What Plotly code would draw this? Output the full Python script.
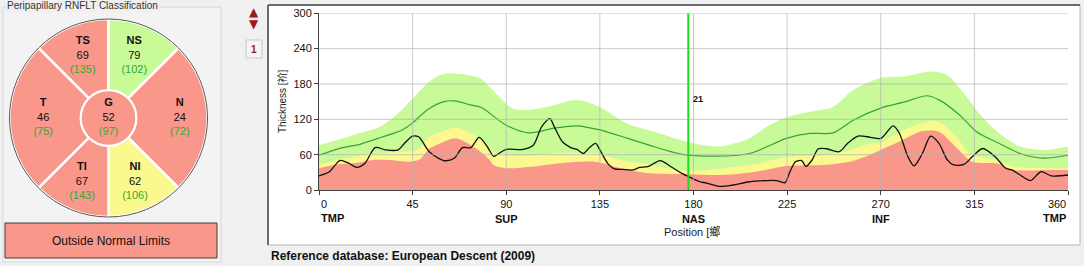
import plotly.graph_objects as go

W, H = 1084, 266

# ---------------- data ----------------
# measured RNFL thickness profile (black)
meas_deg = [0, 5, 10, 14, 18, 22, 27, 32, 38, 41, 45, 48, 53, 60, 65, 69, 73, 77, 81, 84, 86, 90,
            98, 103, 107, 111, 113, 117, 121, 124, 127, 130, 133, 135, 139, 142, 146, 151, 154, 158,
            164, 169, 174, 178, 183, 186, 193, 199, 207, 215, 220, 224, 226, 229, 232, 234, 237, 240,
            244, 250, 254, 259, 265, 270, 276, 279, 283, 286, 290, 294, 298, 302, 305, 310, 314, 319,
            325, 330, 333, 337, 342, 347, 352, 360]
meas_um = [24, 31, 50, 46, 38.5, 45, 72, 68, 68, 79, 91.5, 90, 65, 50, 54, 72, 72, 89.5, 73, 57, 61, 69,
           69, 76, 107, 121, 108, 82, 72, 69, 62, 72, 79, 68, 44, 36, 35, 34, 38.5, 39.5,
           50, 40, 29, 22, 14, 12, 6, 8.5, 14, 16, 16, 12.5, 28, 48, 50, 40, 51, 70,
           70, 65, 79, 91.5, 89.5, 87.5, 109, 96, 57, 41, 62, 91.5, 79, 51, 42.5, 43.5, 56.5, 70.5,
           56.5, 37, 34, 25.5, 16, 31, 24, 25.5]

# normative mean (green line)
mean_deg = [0, 10, 20, 30, 40, 45, 52, 60, 66, 72, 78, 90, 101, 113, 124, 135, 148, 161, 174, 190,
            207, 225, 236, 247, 257, 270, 282, 292, 298, 308, 316, 327, 337, 348, 360]
mean_um = [59, 70.7, 78, 89.5, 102, 114, 136, 150, 151, 145, 140, 110, 97, 105, 109, 102, 88, 73.5, 61, 57.5,
           62, 88, 96, 97, 119, 139, 150, 160, 153, 127, 99, 79, 62, 54, 59]

# upper limit of green band
green_deg = [0, 10, 20, 29, 37, 45, 52, 58, 65, 77, 85, 93, 101, 113, 124, 135, 148, 161, 174, 185,
             193, 207, 215, 225, 236, 247, 257, 270, 282, 294, 302, 310, 318, 327, 337, 348, 360]
green_um = [76, 86, 97, 107, 127, 155, 181, 195, 198, 190, 164, 139, 136, 144, 153, 141, 113, 99, 85, 76,
            74, 88, 107, 124, 133, 141, 170, 190, 193, 201, 195, 164, 127, 96, 74, 68, 74]

# upper limit of yellow band (borderline)
yellow_deg = [0, 10, 26, 40, 47, 53, 60, 65, 70, 76, 82, 84, 90, 103, 117, 133, 145, 157, 173, 183,
              194, 210, 225, 242, 255, 265, 270, 275, 280, 290, 297, 306, 313, 325, 334, 350, 360]
yellow_um = [42, 52, 61, 65, 68, 90, 100, 106, 102, 90, 73, 65, 59, 59, 63, 62, 51, 44, 34, 33,
             37, 44, 56, 59, 68, 79, 80, 90, 100, 114, 117, 92, 61, 51, 40, 37, 37]

# upper limit of red band (outside normal limits)
red_deg = [0, 10, 18, 26, 34, 44, 48.5, 53, 60, 65, 69, 76, 82, 84, 90, 103, 117, 133, 145, 157,
           173, 183, 194, 210, 225, 242, 255, 265, 270, 275, 280, 290, 298, 306, 314, 326, 334, 350, 360]
red_um = [37, 44, 46, 51, 51, 48, 52, 70, 82, 88, 84, 69, 51, 42, 37, 40, 46, 48, 37, 29,
          27, 26, 25.5, 31, 40.7, 42.4, 48, 60, 68, 76, 84, 100, 99, 73.5, 48, 45, 34, 34, 34]

cursor_deg = 177.5
cursor_value = 21

x_ticks = [0, 45, 90, 135, 180, 225, 270, 315, 360]
x_tick_text = ["", "45", "90<br><b>SUP</b>", "135", "180<br><b>NAS</b>", "225",
               "270<br><b>INF</b>", "315", ""]
y_ticks = [0, 60, 120, 180, 240, 300]

# sector classification
sector_names = ["TS", "NS", "N", "NI", "TI", "T"]
sector_values = [69, 79, 24, 62, 67, 46]
sector_normals = [135, 102, 72, 106, 143, 75]
sector_status = ["outside", "within", "outside", "borderline", "outside", "outside"]
global_name, global_value, global_normal, global_status = "G", 52, 97, "outside"
classification = "Outside Normal Limits"

# ---------------- styles ----------------
FONT = "Arial, 'Liberation Sans', 'Noto Sans CJK SC', sans-serif"
RED = "#FA978B"
YEL = "#FAF88E"
GRN = "#C8FA98"
STATUS_COL = {"outside": RED, "borderline": YEL, "within": GRN}
GTXT = "#34A834"

# sector geometry (center angle, width) in polar plot (0 deg = right, ccw)
sector_geom = {"TS": (112.5, 45), "NS": (67.5, 45), "N": (0, 90),
               "NI": (292.5, 45), "TI": (247.5, 45), "T": (180, 90)}
label_r = {"TS": 0.68, "NS": 0.68, "N": 0.72, "NI": 0.70, "TI": 0.70, "T": 0.66}


def px(x):
    return x / W


def py(y):
    return 1 - y / H


fig = go.Figure()

# ---- profile chart ----
for xs, ys, col in [(green_deg, green_um, GRN), (yellow_deg, yellow_um, YEL), (red_deg, red_um, RED)]:
    fig.add_trace(go.Scatter(x=xs, y=ys, mode="lines", fill="tozeroy", fillcolor=col,
                             line=dict(width=0, shape="spline", smoothing=0.8, color=col),
                             hoverinfo="skip", showlegend=False))
fig.add_trace(go.Scatter(x=mean_deg, y=mean_um, mode="lines",
                         line=dict(color="#34A534", width=1.2, shape="spline", smoothing=0.8),
                         hoverinfo="skip", showlegend=False))
fig.add_trace(go.Scatter(x=meas_deg, y=meas_um, mode="lines",
                         line=dict(color="#111111", width=1.3, shape="spline", smoothing=0.8),
                         hoverinfo="skip", showlegend=False))

# ---- classification wheel ----
for name, status in zip(sector_names, sector_status):
    c, w = sector_geom[name]
    fig.add_trace(go.Barpolar(r=[0.72], base=[0.28], theta=[c], width=[w],
                              marker=dict(color=STATUS_COL[status], line=dict(color="white", width=2.5)),
                              hoverinfo="skip", showlegend=False, subplot="polar"))
fig.add_trace(go.Barpolar(r=[0.27], base=[0], theta=[0], width=[360],
                          marker=dict(color=STATUS_COL[global_status], line=dict(color="white", width=0)),
                          hoverinfo="skip", showlegend=False, subplot="polar"))

lab_r, lab_t, lab_txt = [], [], []
for name, v, n in zip(sector_names, sector_values, sector_normals):
    lab_r.append(label_r[name])
    lab_t.append(sector_geom[name][0])
    lab_txt.append(f"<b>{name}</b><br>{v}<br><span style='color:{GTXT}'>({n})</span>")
lab_r.append(0)
lab_t.append(0)
lab_txt.append(f"<b>{global_name}</b><br>{global_value}<br><span style='color:{GTXT}'>({global_normal})</span>")
fig.add_trace(go.Scatterpolar(r=lab_r, theta=lab_t, text=lab_txt, mode="text",
                              textfont=dict(family=FONT, size=11, color="#111111"),
                              hoverinfo="skip", showlegend=False, subplot="polar"))

shapes = []
# left panel box
shapes.append(dict(type="rect", xref="paper", yref="paper", x0=px(3), x1=px(221), y0=py(262), y1=py(7),
                   fillcolor="#F3F3F3", line=dict(color="#D6D6D6", width=1), layer="below"))
# right panel
shapes.append(dict(type="rect", xref="paper", yref="paper", x0=px(268), x1=px(1080), y0=py(245), y1=py(5),
                   fillcolor="white", line=dict(color="#B4B4B4", width=1), layer="below"))
shapes.append(dict(type="line", xref="paper", yref="paper", x0=px(268), x1=px(1080), y0=py(5), y1=py(5),
                   line=dict(color="#6A6A6A", width=2), layer="below"))
shapes.append(dict(type="line", xref="paper", yref="paper", x0=px(268), x1=px(268), y0=py(245), y1=py(5),
                   line=dict(color="#6A6A6A", width=2), layer="below"))
# classification box
shapes.append(dict(type="rect", xref="paper", yref="paper", x0=px(5), x1=px(217), y0=py(258), y1=py(223),
                   fillcolor=RED, line=dict(color="#3C3C3C", width=1)))
# page box "1"
shapes.append(dict(type="rect", xref="paper", yref="paper", x0=px(246), x1=px(262), y0=py(58), y1=py(40),
                   fillcolor="#F4F4F4", line=dict(color="#C8C8C8", width=1)))
# grid lines drawn over the bands
for v in x_ticks[1:-1]:
    shapes.append(dict(type="line", xref="x", yref="y domain", x0=v, x1=v, y0=0, y1=1,
                       line=dict(color="rgba(180,180,180,0.7)", width=1), layer="above"))
for v in y_ticks[1:]:
    shapes.append(dict(type="line", xref="x domain", yref="y", x0=0, x1=1, y0=v, y1=v,
                       line=dict(color="rgba(180,180,180,0.7)", width=1), layer="above"))
# cursor line
shapes.append(dict(type="line", xref="x", yref="y", x0=cursor_deg, x1=cursor_deg, y0=0, y1=300,
                   line=dict(color="#1EDC1E", width=2), layer="above"))

annotations = [
    dict(text="Peripapillary RNFLT Classification", xref="paper", yref="paper", x=px(5), y=py(6),
         xanchor="left", yanchor="middle", showarrow=False, bgcolor="#F0F0F0",
         font=dict(family=FONT, size=10, color="#333333")),
    dict(text=classification, xref="paper", yref="paper", x=px(111), y=py(241),
         xanchor="center", yanchor="middle", showarrow=False,
         font=dict(family=FONT, size=12, color="#111111")),
    dict(text="<b>Reference database: European Descent (2009)</b>", xref="paper", yref="paper",
         x=px(269), y=py(256), xanchor="left", yanchor="middle", showarrow=False,
         font=dict(family=FONT, size=12, color="#111111")),
    dict(text="▲", xref="paper", yref="paper", x=px(254), y=py(12), xanchor="center", yanchor="middle",
         showarrow=False, font=dict(family="DejaVu Sans", size=12, color="#A01818")),
    dict(text="▼", xref="paper", yref="paper", x=px(254), y=py(24), xanchor="center", yanchor="middle",
         showarrow=False, font=dict(family="DejaVu Sans", size=12, color="#A01818")),
    dict(text="<b>1</b>", xref="paper", yref="paper", x=px(254), y=py(49), xanchor="center", yanchor="middle",
         showarrow=False, font=dict(family=FONT, size=10, color="#A01818")),
    dict(text="0<br><b>TMP</b>", xref="x", yref="paper", x=0, y=py(196), xanchor="left", yanchor="top",
         align="left", showarrow=False, font=dict(family=FONT, size=11, color="#111111")),
    dict(text="360<br><b>TMP</b>", xref="x", yref="paper", x=360, y=py(196), xanchor="right", yanchor="top",
         align="right", showarrow=False, font=dict(family=FONT, size=11, color="#111111")),
    dict(text="Position [鄉", xref="paper", yref="paper", x=px(692), y=py(232), xanchor="center",
         yanchor="middle", showarrow=False, font=dict(family=FONT, size=11, color="#222222")),
    dict(text="Thickness [祄]", xref="paper", yref="paper", x=px(282), y=py(101), xanchor="center",
         yanchor="middle", textangle=-90, showarrow=False, font=dict(family=FONT, size=10, color="#222222")),
    dict(text=f"<b>{cursor_value}</b>", xref="x", yref="y", x=cursor_deg + 1.5, y=154, xanchor="left",
         yanchor="middle", showarrow=False, font=dict(family=FONT, size=9, color="#111111")),
]

cx, cy, rad = 108.5, 118, 99
fig.update_layout(
    width=W, height=H,
    margin=dict(l=0, r=0, t=0, b=0, pad=0, autoexpand=False),
    paper_bgcolor="#F0F0F0",
    plot_bgcolor="white",
    font=dict(family=FONT, size=11, color="#111111"),
    showlegend=False,
    xaxis=dict(domain=[px(319), px(1068)], range=[0, 360], tickvals=x_ticks, ticktext=x_tick_text,
               showgrid=False, zeroline=False, showline=True, linecolor="#404040", linewidth=1,
               ticks="outside", ticklen=4, tickcolor="#404040", tickfont=dict(size=11),
               fixedrange=True, anchor="y", automargin=False),
    yaxis=dict(domain=[py(190), py(13.3)], range=[0, 300], tickvals=y_ticks,
               showgrid=False, zeroline=False, showline=True, linecolor="#404040", linewidth=1,
               ticks="outside", ticklen=4, tickcolor="#404040", tickfont=dict(size=11),
               fixedrange=True, anchor="x", automargin=False),
    polar=dict(domain=dict(x=[px(cx - rad), px(cx + rad)], y=[py(cy + rad), py(cy - rad)]),
               bgcolor="rgba(0,0,0,0)", hole=0,
               radialaxis=dict(visible=False, range=[0, 1]),
               angularaxis=dict(showline=True, linecolor="#5A5A5A", linewidth=1, showgrid=False,
                                showticklabels=False, ticks="", rotation=0, direction="counterclockwise")),
    shapes=shapes,
    annotations=annotations,
    barmode="overlay",
)

fig.write_html("out.html", config={"displayModeBar": False},
               post_script="document.body.style.margin='0';document.body.style.overflow='hidden';")
